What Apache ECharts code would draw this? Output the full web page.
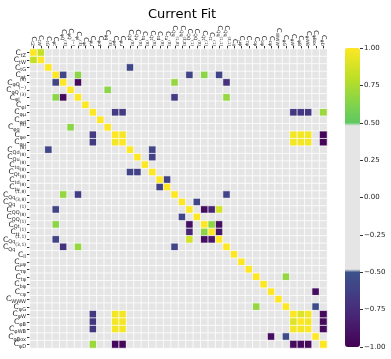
<!DOCTYPE html>
<html>
<head>
<meta charset="utf-8">
<script src="https://cdn.jsdelivr.net/npm/echarts@6/dist/echarts.min.js"></script>
<style>
  html, body { margin: 0; padding: 0; background: #fff; }
  #main { width: 391px; height: 359px; }
</style>
</head>
<body>
<div id="main"></div>
<script>
// operator labels, "sub|sup"
const labels = [
  'tZ', 'tW', 'tG', 'φt', 'φQ|(3)', 'φQ|(−)', 'φl|(3)', 'φl', 'φμ', 'φd',
  'φq|(3)', 'φe', 'φu', 'Qd|(8)', 'Qu|(8)', 'tq|(8)', 'Qt|(8)', 'td|(8)', 'tu|(8)', 'Qq|(1,8)',
  'Qq|(3,8)', 'QQ|(1)', 'QQ|(8)', 'Qt|(1)', 'tt|(1)', 'Qq|(1,1)', 'Qq|(3,1)', 'll', 'μφ', 'τφ',
  'tφ', 'bφ', 'cφ', 'WWW', 'φG', 'φW', 'φB', 'φWB', 'φBox', 'φD'
]

// off-diagonal correlations that show up (row, col, value), 1-based, upper triangle
const pairs = [
  [1, 2, 0.82],
  [3, 14, -0.58],
  [4, 5, -0.6], [4, 7, 0.65], [4, 22, -0.6], [4, 24, 0.65], [4, 26, -0.6],
  [5, 7, -0.95], [5, 20, 0.68], [5, 27, -0.72],
  [6, 11, 0.65],
  [7, 20, -0.65], [7, 27, 0.68],
  [9, 12, -0.66], [9, 13, -0.66], [9, 36, -0.68], [9, 37, -0.68], [9, 38, -0.68], [9, 40, 0.7],
  [12, 13, 0.97], [12, 36, 0.97], [12, 37, 0.97], [12, 38, 0.97], [12, 40, -0.97],
  [13, 36, 0.97], [13, 37, 0.97], [13, 38, 0.97], [13, 40, -0.97],
  [14, 17, -0.6], [15, 17, -0.62],
  [18, 19, -0.62],
  [20, 27, -0.6],
  [21, 23, -0.6],
  [22, 24, -0.93], [22, 25, -0.8], [22, 26, 0.86],
  [24, 25, 0.66], [24, 26, -0.92],
  [25, 26, -0.88],
  [31, 35, 0.68],
  [33, 39, -0.93],
  [35, 39, -0.55],
  [36, 37, 0.9], [36, 38, 0.97], [37, 38, 0.97],
  [36, 40, -0.95], [37, 40, -0.95], [38, 40, -0.95]
]

const colorbarTicks = [-1, -0.75, -0.5, -0.25, 0, 0.25, 0.5, 0.75, 1]

// viridis, masked to grey for |v| < 0.5
const viridisKeys = ['#440154', '#482475', '#414487', '#355f8d', '#2a788e', '#21918c',
  '#22a884', '#44bf70', '#7ad151', '#bddf26', '#fde725']
function hex(c) { return [1, 3, 5].map(i => parseInt(c.substr(i, 2), 16)) }
function viridis(t) {
  const p = t * 10, i = Math.min(9, Math.floor(p)), f = p - i
  const a = hex(viridisKeys[i]), b = hex(viridisKeys[i + 1])
  return 'rgb(' + a.map((v, k) => Math.round(v + (b[k] - v) * f)).join(',') + ')'
}
const nStops = 401
const mapColors = []
for (let k = 0; k < nStops; k++) {
  const v = -1 + 2 * k / (nStops - 1)
  mapColors.push(Math.abs(v) < 0.5 - 1e-9 ? '#e5e5e5' : viridis((v + 1) / 2))
}

// full matrix from the listed pairs
const n = labels.length
const cells = []
const lookup = {}
pairs.forEach(p => { lookup[p[0] + '_' + p[1]] = p[2]; lookup[p[1] + '_' + p[0]] = p[2] })
for (let i = 1; i <= n; i++) {
  for (let j = 1; j <= n; j++) {
    let v = i === j ? 1 : (lookup[i + '_' + j] || 0)
    cells.push([j - 1, i - 1, v])
  }
}

function makeRich(big, small, lh) {
  return {
    c: { fontSize: big, color: '#222', lineHeight: lh, verticalAlign: 'middle' },
    s: { fontSize: small, color: '#222', lineHeight: lh, verticalAlign: 'bottom' },
    u: { fontSize: small - 0.5, color: '#222', lineHeight: lh, verticalAlign: 'top' }
  }
}
function fmt(lab) {
  const parts = lab.split('|')
  let out = '{c|C}{s|' + parts[0] + '}'
  if (parts[1]) out += '{u|' + parts[1] + '}'
  return out
}

const myChart = echarts.init(document.getElementById('main'))
const option = {
  animation: false,
  textStyle: { fontFamily: 'DejaVu Sans' },
  title: {
    text: 'Current Fit',
    left: 177,
    textAlign: 'center',
    top: 3,
    textStyle: { fontSize: 13, fontWeight: 'normal', color: '#000', fontFamily: 'DejaVu Sans' }
  },
  grid: [
    { left: 28, top: 49, width: 299, height: 299 },
    { left: 360, top: 48, width: 1, height: 299 }
  ],
  xAxis: [{
    type: 'category',
    data: labels,
    position: 'top',
    gridIndex: 0,
    axisLine: { show: false },
    axisTick: { show: true, length: 3, alignWithLabel: true, lineStyle: { color: '#333' } },
    axisLabel: { interval: 0, rotate: 90, margin: 3, formatter: fmt, rich: makeRich(6.5, 4.5, 8) },
    splitArea: { show: false }
  }, {
    type: 'value', gridIndex: 1, show: false, min: 0, max: 1
  }],
  yAxis: [{
    type: 'category',
    data: labels,
    inverse: true,
    gridIndex: 0,
    axisLine: { show: false },
    axisTick: { show: true, length: 3, alignWithLabel: true, lineStyle: { color: '#333' } },
    axisLabel: { interval: 0, margin: 4, formatter: fmt, rich: makeRich(7.5, 5, 10) }
  }, {
    type: 'value',
    gridIndex: 1,
    position: 'right',
    min: -1,
    max: 1,
    interval: 0.25,
    axisLine: { show: false },
    splitLine: { show: false },
    axisTick: { show: true, length: 3, lineStyle: { color: '#333' } },
    axisLabel: {
      fontSize: 7, color: '#222', margin: 3,
      formatter: v => colorbarTicks.indexOf(v) >= 0 ? v.toFixed(2).replace('-', '−') : ''
    }
  }],
  visualMap: {
    type: 'continuous',
    min: -1,
    max: 1,
    seriesIndex: 0,
    left: 345,
    top: 48,
    itemWidth: 15,
    itemHeight: 299,
    padding: 0,
    calculable: false,
    hoverLink: false,
    text: null,
    inRange: { color: mapColors }
  },
  series: [{
    type: 'heatmap',
    xAxisIndex: 0,
    yAxisIndex: 0,
    data: cells,
    itemStyle: { borderColor: 'rgba(255,255,255,0.75)', borderWidth: 1 },
    emphasis: { disabled: true }
  }]
}
myChart.setOption(option)
</script>
</body>
</html>
